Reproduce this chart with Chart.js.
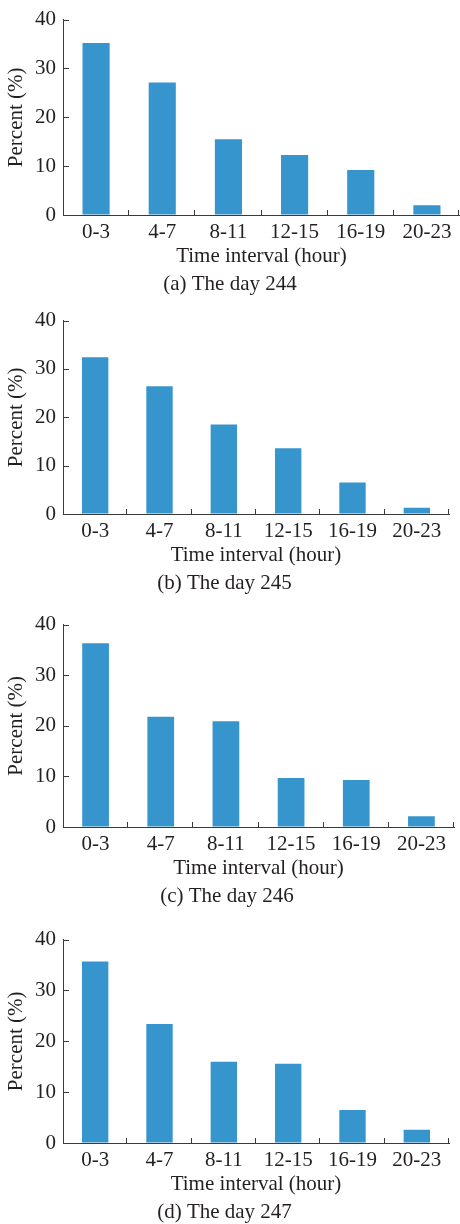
<!DOCTYPE html>
<html>
<head>
<meta charset="utf-8">
<script src="https://cdn.jsdelivr.net/npm/chart.js@4.4.1/dist/chart.umd.min.js"></script>
<style>
  html, body { margin: 0; padding: 0; background: #fff; }
  body { width: 460px; height: 1224px; position: relative; overflow: hidden; }
  canvas { position: absolute; left: 0; }
</style>
</head>
<body>
<canvas id="c0"></canvas>
<canvas id="c1"></canvas>
<canvas id="c2"></canvas>
<canvas id="c3"></canvas>
<script>
// Data
const intervals = ["0-3", "4-7", "8-11", "12-15", "16-19", "20-23"];
const day244 = [35.2, 27.1, 15.5, 12.3, 9.2, 2.0];
const day245 = [32.4, 26.4, 18.5, 13.6, 6.5, 1.3];
const day246 = [36.3, 21.8, 20.9, 9.7, 9.3, 2.1];
const day247 = [35.7, 23.4, 16.0, 15.6, 6.5, 2.6];
const captions = ["(a) The day 244", "(b) The day 245", "(c) The day 246", "(d) The day 247"];
const yTicks = [0, 10, 20, 30, 40];

// Layout of each panel: plot top / bottom in page pixels, right edge of x axis
const panels = [
  { data: day244, top: 16, bottom: 215, right: 460 },
  { data: day245, top: 317, bottom: 514, right: 449 },
  { data: day246, top: 621, bottom: 827, right: 454 },
  { data: day247, top: 936, bottom: 1143, right: 449 },
];

const barColor = "#3795cd";
const axisColor = "#3a3a3a";
const textColor = "#231f20";

Chart.defaults.font.family = "'Liberation Serif', 'Times New Roman', serif";
Chart.defaults.font.size = 21;
Chart.defaults.color = textColor;

// tick marks pointing into the plot, like the original figure
const innerTicks = {
  id: "innerTicks",
  afterDraw(chart) {
    const { ctx, chartArea, scales: { x, y } } = chart;
    ctx.save();
    ctx.strokeStyle = axisColor;
    ctx.lineWidth = 1;
    ctx.beginPath();
    y.ticks.forEach((t, i) => {
      const py = Math.round(y.getPixelForTick(i)) + 0.5;
      ctx.moveTo(chartArea.left, py);
      ctx.lineTo(chartArea.left + 6, py);
    });
    for (let i = 1; i <= intervals.length; i++) {
      let px = Math.round(x.getPixelForValue(i - 0.5)) - 0.5;
      if (px > chart.width - 1) px = chart.width - 1.5;
      ctx.moveTo(px, chartArea.bottom);
      ctx.lineTo(px, chartArea.bottom - 5);
    }
    ctx.stroke();
    ctx.restore();
  }
};

const topPad = 16;
const xAxisHeight = 52;
const captionHeight = 30;

panels.forEach((p, idx) => {
  const canvas = document.getElementById("c" + idx);
  const h = Math.round(topPad + (p.bottom - p.top) + xAxisHeight + captionHeight);
  canvas.width = 460;
  canvas.height = h;
  canvas.style.top = (p.top - topPad) + "px";

  new Chart(canvas.getContext("2d"), {
    type: "bar",
    data: {
      labels: intervals,
      datasets: [{
        data: p.data,
        backgroundColor: barColor,
        borderWidth: 0,
        barPercentage: 0.41,
        categoryPercentage: 1.0,
      }],
    },
    options: {
      responsive: false,
      animation: false,
      devicePixelRatio: 1,
      layout: { padding: { top: topPad, left: 0, right: 460 - p.right, bottom: 0 } },
      plugins: {
        legend: { display: false },
        tooltip: { enabled: false },
        title: {
          display: true,
          position: "bottom",
          text: captions[idx],
          font: { size: 21, weight: "normal", lineHeight: 1.0 },
          color: textColor,
          padding: { top: 7, bottom: 2 },
        },
      },
      scales: {
        x: {
          grid: { drawOnChartArea: false, drawTicks: false },
          border: { display: true, color: axisColor, width: 1 },
          ticks: { padding: 6, font: { size: 21, lineHeight: 1.1 }, maxRotation: 0, autoSkip: false },
          title: {
            display: true,
            text: "Time interval (hour)",
            font: { size: 21, lineHeight: 1.0 },
            padding: { top: 2, bottom: 0 },
          },
          afterFit: (scale) => { scale.height = xAxisHeight; },
        },
        y: {
          min: 0,
          max: 40,
          afterBuildTicks: (scale) => { scale.ticks = yTicks.map((v) => ({ value: v })); },
          grid: { drawOnChartArea: false, drawTicks: false },
          border: { display: true, color: axisColor, width: 1 },
          ticks: { padding: 7, font: { size: 21 } },
          title: {
            display: true,
            text: "Percent (%)",
            font: { size: 21, lineHeight: 1.0 },
            padding: { top: 6, bottom: 0 },
          },
          afterFit: (scale) => { scale.width = 63; },
        },
      },
    },
    plugins: [innerTicks],
  });
});
</script>
</body>
</html>
